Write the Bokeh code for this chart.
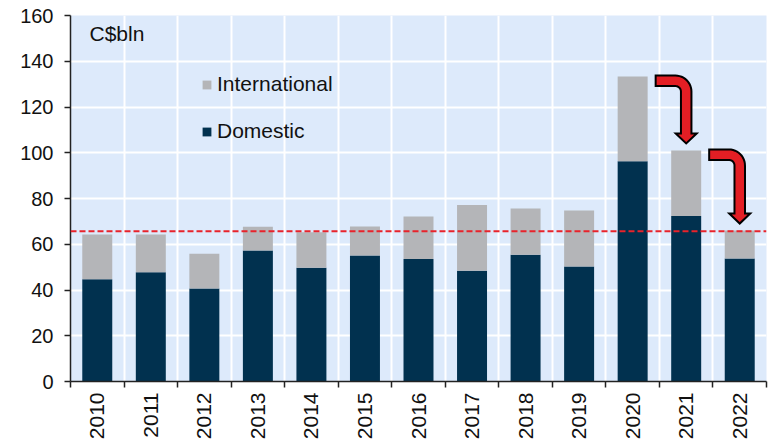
import math
from bokeh.plotting import figure
from bokeh.models import (Range1d, FixedTicker, Span, Legend, LegendItem, Label,
                          ColumnDataSource)
from bokeh.embed import file_html
from bokeh.resources import INLINE

# ---- data ----
years = ["2010", "2011", "2012", "2013", "2014", "2015", "2016",
         "2017", "2018", "2019", "2020", "2021", "2022"]
domestic = [44.7, 47.8, 40.7, 57.3, 49.7, 55.1, 53.5, 48.4, 55.4, 50.3, 96.3, 72.4, 53.8]
international = [19.6, 16.5, 15.1, 10.3, 15.6, 12.7, 18.6, 28.8, 20.2, 24.5, 37.0, 28.6, 12.2]
reference_level = 65.7
y_ticks = [0, 20, 40, 60, 80, 100, 120, 140, 160]
unit_label = "C$bln"
arrow_pairs = [(10, 11), (11, 12)]

# ---- style ----
NAVY = "#01314F"
GREY = "#B4B5B8"
BG = "#DDEAFB"
RED = "#E8232B"
ARROW = "#E31E24"
FONT = "Liberation Sans"
TXT = "#111111"

n = len(years)
xs = list(range(n))
total = [d + i for d, i in zip(domestic, international)]
boundaries = [i - 0.5 for i in range(n + 1)]
YMAX = y_ticks[-1]

FW, FH = 696, 366
p = figure(frame_width=FW, frame_height=FH,
           x_range=Range1d(-0.5, n - 0.5), y_range=Range1d(0, YMAX),
           output_backend="svg", toolbar_location=None,
           min_border_left=70, min_border_right=8, min_border_top=15, min_border_bottom=63,
           background_fill_color=BG, border_fill_color="white", outline_line_color=None)

src = ColumnDataSource(dict(x=xs, dom=domestic, tot=total))
r_dom = p.vbar(x="x", top="dom", bottom=0, width=0.56, source=src,
               fill_color=NAVY, line_color=None)
r_int = p.vbar(x="x", top="tot", bottom="dom", width=0.56, source=src,
               fill_color=GREY, line_color=None)

# grid
p.xgrid.ticker = FixedTicker(ticks=boundaries)
p.ygrid.ticker = FixedTicker(ticks=y_ticks)
for g in (p.xgrid, p.ygrid):
    g.grid_line_color = "white"
    g.grid_line_width = 2

# x axis
xa = p.xaxis[0]
xa.ticker = FixedTicker(ticks=xs, minor_ticks=boundaries)
xa.major_label_overrides = {i: years[i] for i in xs}
xa.major_label_orientation = math.pi / 2
xa.major_tick_out = 0
xa.major_tick_in = 0
xa.minor_tick_out = 6
xa.minor_tick_in = 0
xa.minor_tick_line_color = "#222222"
xa.minor_tick_line_width = 1.5
xa.axis_line_color = "#222222"
xa.axis_line_width = 1.5
xa.major_label_standoff = 5
xa.major_label_text_font = FONT
xa.major_label_text_font_size = "21px"
xa.major_label_text_color = TXT

# y axis
ya = p.yaxis[0]
ya.ticker = FixedTicker(ticks=y_ticks)
ya.major_tick_out = 6
ya.major_tick_in = 0
ya.minor_tick_out = 0
ya.minor_tick_in = 0
ya.major_tick_line_color = "#222222"
ya.major_tick_line_width = 1.5
ya.axis_line_color = "#222222"
ya.axis_line_width = 1.5
ya.major_label_standoff = 11
ya.major_label_text_font = FONT
ya.major_label_text_font_size = "20px"
ya.major_label_text_color = TXT

# reference line
p.add_layout(Span(location=reference_level, dimension="width", line_color=RED,
                  line_dash="6 3", line_width=2))

# bent arrows
sx = FW / n
sy = FH / YMAX


def bent_arrow(k0, k1):
    t, R, hw, hl = 10.5, 16.0, 10.5, 10.0
    r = R - t
    X0 = (xs[k0] + 0.28) * sx + 8
    Yt = total[k0] * sy + 1
    Xc = xs[k1] * sx
    Ytip = total[k1] * sy + 7
    xr, xl = Xc + t / 2, Xc - t / 2
    yb = Yt - t
    yhead = Ytip + hl
    cx, cy = xr - R, Yt - R
    pts = [(X0, Yt)]
    for j in range(13):
        a = math.pi / 2 - j * (math.pi / 2) / 12
        pts.append((cx + R * math.cos(a), cy + R * math.sin(a)))
    pts += [(xr, yhead), (Xc + hw, yhead), (Xc, Ytip), (Xc - hw, yhead), (xl, yhead)]
    for j in range(13):
        a = j * (math.pi / 2) / 12
        pts.append((cx + r * math.cos(a), cy + r * math.sin(a)))
    pts.append((X0, yb))
    return [q[0] / sx for q in pts], [q[1] / sy for q in pts]


for k0, k1 in arrow_pairs:
    ax, ay = bent_arrow(k0, k1)
    p.patch(ax, ay, fill_color=ARROW, line_color="black", line_width=2,
            line_join="miter")

# unit label
p.add_layout(Label(x=-0.5 + 19 / sx, y=YMAX - 18 / sy, text=unit_label,
                   text_font=FONT, text_font_size="21px", text_color=TXT,
                   text_baseline="alphabetic"))

# legend
legend = Legend(items=[LegendItem(label="International", renderers=[r_int]),
                       LegendItem(label="Domestic", renderers=[r_dom])],
                location=(131, 238), orientation="vertical",
                background_fill_alpha=0, border_line_color=None,
                padding=0, margin=0, spacing=23, label_height=22,
                glyph_height=11, glyph_width=11, label_standoff=5,
                label_text_font=FONT, label_text_font_size="21px",
                label_text_color=TXT)
p.add_layout(legend)

open("out.html", "w").write(file_html(p, INLINE))
